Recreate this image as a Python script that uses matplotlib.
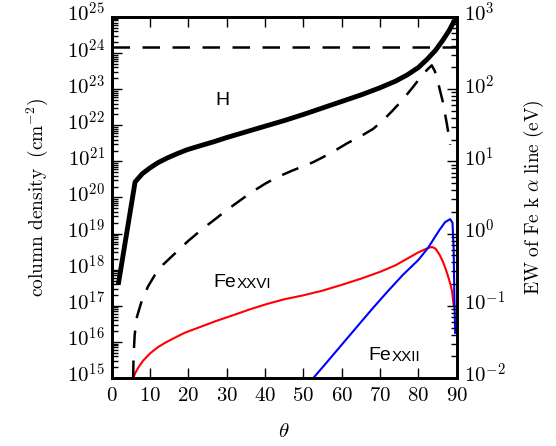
import numpy as np
import matplotlib
matplotlib.use('Agg')
import matplotlib.pyplot as plt
from matplotlib.ticker import FixedLocator, LogLocator, FuncFormatter, NullFormatter
from matplotlib.transforms import ScaledTranslation

plt.rcParams['mathtext.fontset'] = 'cm'
plt.rcParams['font.family'] = ['Liberation Sans', 'DejaVu Sans']

# H column density (left axis, log10 cm^-2)
theta_h = [1.7, 6.1, 8.0, 10.0, 12.0, 14.4, 17.0, 19.6, 23.0, 26.5, 30.0, 33.5, 37.0, 40.5, 45.0, 50.0,
           55.0, 60.0, 65.0, 70.0, 74.0, 77.0, 80.0, 82.3, 84.5, 86.4, 88.0, 89.0, 90.0]
logn_h = [17.58, 20.43, 20.66, 20.82, 20.96, 21.09, 21.21, 21.32, 21.43, 21.54, 21.66, 21.77, 21.88, 21.99, 22.13, 22.30,
          22.48, 22.66, 22.84, 23.04, 23.22, 23.39, 23.60, 23.83, 24.08, 24.36, 24.62, 24.82, 25.0]

# Fe XXVI column density (left axis)
theta_fe26 = [5.6, 6.2, 7.0, 8.2, 10.0, 12.0, 14.0, 16.0, 19.0, 23.0, 27.0, 31.7, 36.0, 40.5, 45.0, 50.0, 55.0,
              60.0, 65.0, 70.0, 74.0, 77.0, 80.0, 82.5, 83.6, 84.5, 85.5, 86.5, 87.5, 88.3, 88.8, 89.2]
logn_fe26 = [15.0, 15.15, 15.3, 15.48, 15.68, 15.85, 15.98, 16.09, 16.25, 16.41, 16.57, 16.74, 16.9, 17.05, 17.18, 17.29, 17.42,
             17.58, 17.75, 17.94, 18.12, 18.30, 18.48, 18.6, 18.63, 18.58, 18.42, 18.2, 17.9, 17.62, 17.4, 17.0]

# Fe XXII column density (left axis)
theta_fe22 = [52.6, 56.0, 60.0, 64.0, 68.0, 72.0, 76.0, 80.0, 82.5, 84.0, 85.5, 87.0, 88.3, 88.9, 89.2, 89.4, 89.6]
logn_fe22 = [15.0, 15.42, 15.92, 16.42, 16.92, 17.4, 17.86, 18.27, 18.6, 18.85, 19.1, 19.32, 19.40, 19.3, 18.6, 17.2, 16.25]

# EW of Fe k alpha line (right axis, log10 eV)
theta_ew = [5.6, 5.7, 6.0, 6.6, 7.9, 9.5, 11.3, 13.4, 17.0, 20.0, 23.8, 27.0, 30.1, 33.0, 36.1, 40.0, 43.1, 47.0,
            52.6, 57.0, 61.4, 65.0, 68.2, 71.0, 73.4, 76.0, 78.6, 80.5, 82.3, 83.5, 84.3, 85.1, 86.4, 87.5, 88.3]
logew = [-2.0, -1.7, -1.4, -1.15, -0.92, -0.73, -0.57, -0.43, -0.25, -0.1, 0.07, 0.2, 0.33, 0.44, 0.56, 0.69, 0.78, 0.87,
         0.99, 1.11, 1.25, 1.35, 1.45, 1.58, 1.71, 1.86, 2.03, 2.16, 2.27, 2.33, 2.25, 2.10, 1.82, 1.50, 1.23]

# Compton-thick column
n_thick = 1.5e24

fig = plt.figure(figsize=(5.56, 4.46), dpi=100)
ax = fig.add_axes([0.2009, 0.1525, 0.6205, 0.8094])
ax2 = ax.twinx()

ax.plot(theta_h, 10**np.array(logn_h), color='black', lw=3.5, solid_capstyle='butt', solid_joinstyle='round')
ax.plot(theta_fe26, 10**np.array(logn_fe26), color='red', lw=1.5)
ax.plot(theta_fe22, 10**np.array(logn_fe22), color='blue', lw=1.5)
ax.axhline(n_thick, color='black', lw=1.8, dashes=(7, 5))
ax2.plot(theta_ew, 10**np.array(logew), color='black', lw=1.8, dashes=(7, 5))

ax.set_yscale('log')
ax2.set_yscale('log')
ax.set_xlim(0, 90)
ax.set_ylim(1e15, 1e25)
ax2.set_ylim(1e-2, 1e3)

ax.xaxis.set_major_locator(FixedLocator(np.arange(0, 91, 10)))
ax.xaxis.set_major_formatter(FuncFormatter(lambda v, p: r'$%d$' % v))
for a in (ax, ax2):
    a.yaxis.set_major_locator(LogLocator(base=10, numticks=20))
    a.yaxis.set_minor_locator(LogLocator(base=10, subs=np.arange(2, 10), numticks=20))
    a.yaxis.set_major_formatter(FuncFormatter(lambda v, p: r'$10^{%d}$' % round(np.log10(v))))
    a.yaxis.set_minor_formatter(NullFormatter())

ax.tick_params(axis='x', which='major', direction='in', top=True, length=7, width=1, labelsize=15, pad=6)
ax.tick_params(axis='y', which='major', direction='in', right=False, length=7, width=1, labelsize=15, pad=5)
ax.tick_params(axis='y', which='minor', direction='in', right=False, length=4, width=1)
ax2.tick_params(axis='y', which='major', direction='in', length=7, width=1, labelsize=15, pad=5)
ax2.tick_params(axis='y', which='minor', direction='in', length=4, width=1)

for a in (ax, ax2):
    for s in a.spines.values():
        s.set_linewidth(2)

ax.set_xlabel(r'$\theta$', fontsize=15, labelpad=12)
ax.set_ylabel(r'$\mathrm{column\ density\ \ (cm^{-2})}$', fontsize=14, labelpad=12)
ax2.set_ylabel(r'$\mathrm{EW\ of\ Fe\ k\ }\alpha\mathrm{\ line\ (eV)}$', fontsize=14, labelpad=12)

ax.text(28.8, 10**22.7, 'H', fontsize=14, ha='center', va='center')
t1 = ax.text(26.5, 10**17.53, 'Fe', fontsize=14, ha='left', va='baseline')
ax.annotate('XXVI', xy=(1, 0), xycoords=t1, xytext=(0.5, 0), textcoords='offset points',
            fontsize=11, ha='left', va='bottom')
t2 = ax.text(66.9, 10**15.51, 'Fe', fontsize=14, ha='left', va='baseline')
ax.annotate('XXII', xy=(1, 0), xycoords=t2, xytext=(0.5, 0), textcoords='offset points',
            fontsize=11, ha='left', va='bottom')

# tick labels in the reference sit a few pixels above their ticks
fig.canvas.draw()
shift = ScaledTranslation(0, 3.5 / 72, fig.dpi_scale_trans)
for lab in ax.get_yticklabels() + ax2.get_yticklabels():
    lab.set_transform(lab.get_transform() + shift)

fig.savefig('out.png', dpi=100)
